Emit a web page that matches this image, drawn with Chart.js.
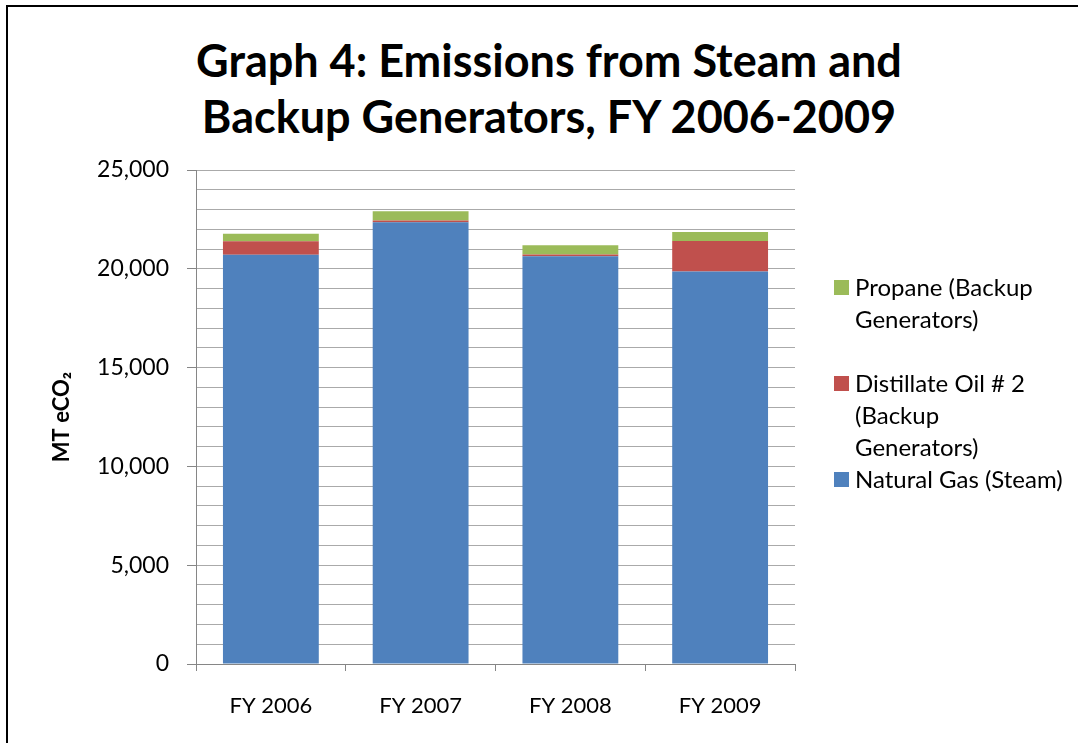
<!DOCTYPE html>
<html>
<head>
<meta charset="utf-8">
<script src="https://cdn.jsdelivr.net/npm/chart.js@4/dist/chart.umd.min.js"></script>
<style>
  body { margin: 0; background: #fff; }
  #wrap { position: relative; width: 1078px; height: 743px; overflow: hidden; font-family: Lato, "Open Sans", sans-serif; }
  #frame { position: absolute; left: 6px; top: 5px; width: 1200px; height: 900px; border-left: 2px solid #000; border-top: 2px solid #000; }
  #title { position: absolute; left: 20px; width: 1058px; top: 32px; text-align: center; font-weight: bold; font-size: 45px; line-height: 56px; color: #000; }
  canvas { position: absolute; left: 0; top: 0; }
  .item { position: absolute; left: 834px; font-size: 24px; line-height: 32px; color: #000; }
  .item .sw { position: absolute; left: 0; top: 9px; width: 15px; height: 15px; }
  .item .tx { position: absolute; left: 21px; white-space: nowrap; }
</style>
</head>
<body>
<div id="wrap">
  <div id="frame"></div>
  <div id="title">Graph 4: Emissions from Steam and<br>Backup Generators, FY 2006-2009</div>
  <canvas id="barChart" width="1078" height="743"></canvas>
  <div id="legend"></div>
</div>
<script>
// values (MT eCO2)
const categories = ['FY 2006', 'FY 2007', 'FY 2008', 'FY 2009'];
const naturalGas = [20710, 22350, 20630, 19860];
const distillateOil = [680, 100, 100, 1550];
const propane = [390, 460, 460, 455];
const seriesLabels = ['Natural Gas (Steam)', 'Distillate Oil # 2 (Backup Generators)', 'Propane (Backup Generators)'];
// how the legend wraps each label
const legendLines = [['Natural Gas (Steam)'], ['Distillate Oil # 2', '(Backup', 'Generators)'], ['Propane (Backup', 'Generators)']];
const seriesColors = ['#4F81BD', '#C0504D', '#9BBB59'];
const yTicksMajor = [0, 5000, 10000, 15000, 20000, 25000];

const font = 'Lato';
const axisGrey = '#868686';

const ctx = document.getElementById('barChart').getContext('2d');
const chart = new Chart(ctx, {
  type: 'bar',
  data: {
    labels: categories,
    datasets: [naturalGas, distillateOil, propane].map((d, i) => ({
      label: seriesLabels[i],
      data: d,
      backgroundColor: seriesColors[i],
      borderWidth: 0,
      categoryPercentage: 1,
      barPercentage: 0.64
    }))
  },
  options: {
    responsive: false,
    animation: false,
    layout: { padding: { top: 170, right: 283, bottom: 19, left: 0 } },
    plugins: {
      legend: { display: false },
      title: { display: false },
      tooltip: { enabled: false }
    },
    scales: {
      x: {
        stacked: true,
        grid: { display: true, drawOnChartArea: false, offset: true, color: axisGrey, tickLength: 7 },
        border: { color: axisGrey, width: 1 },
        ticks: { color: '#000', font: { family: font, size: 22 }, padding: 22 },
        afterFit: s => { s.height = 60; }
      },
      y: {
        stacked: true,
        min: 0,
        max: 25000,
        grid: {
          color: '#aaaaaa',
          tickLength: 9,
          tickColor: c => (yTicksMajor.includes(c.tick && c.tick.value) ? axisGrey : 'rgba(0,0,0,0)')
        },
        border: { color: axisGrey, width: 1 },
        ticks: {
          stepSize: 1000,
          autoSkip: false,
          color: '#000',
          padding: 18,
          font: { family: font, size: 23 },
          callback: v => (yTicksMajor.includes(v) ? v.toLocaleString('en-US') : '')
        },
        title: {
          display: true,
          text: 'MT eCO₂',
          color: '#000',
          font: { family: font, size: 22, weight: 'bold' },
          padding: { top: 49, bottom: 0 }
        },
        afterFit: s => { s.width = 196; }
      }
    }
  }
});

// legend, right side, top entry first (as in the original)
const legendTops = [271, 367, 463];
const legend = document.getElementById('legend');
[2, 1, 0].forEach((k, i) => {
  const item = document.createElement('div');
  item.className = 'item';
  item.style.top = legendTops[i] + 'px';
  item.innerHTML = '<div class="sw" style="background:' + seriesColors[k] + '"></div><div class="tx">' + legendLines[k].join('<br>') + '</div>';
  legend.appendChild(item);
});
</script>
</body>
</html>
